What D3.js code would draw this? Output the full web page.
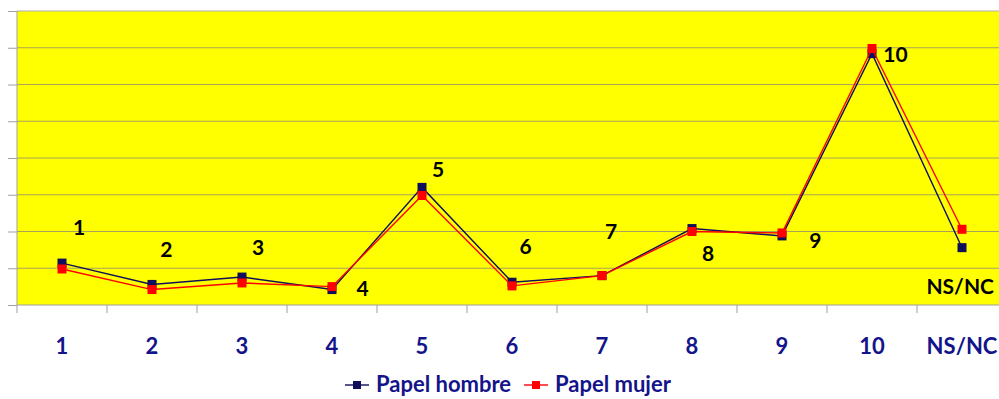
<!DOCTYPE html>
<html><head><meta charset="utf-8">
<script src="https://cdn.jsdelivr.net/npm/d3@7"></script>
<style>html,body{margin:0;padding:0;background:#fff;overflow:hidden}</style>
</head><body>
<svg id="c" width="999" height="399"></svg>
<script>
const categories = ["1","2","3","4","5","6","7","8","9","10","NS/NC"];
const hombre = [5.7, 2.8, 3.8, 2.1, 16.0, 3.1, 4.0, 10.4, 9.4, 34.2, 7.8];
const mujer  = [4.9, 2.1, 3.0, 2.5, 14.9, 2.6, 4.0, 10.0, 9.8, 34.9, 10.3];
const yTicks = [0,5,10,15,20,25,30,35,40];
// data-label annotations: text, value-position, offset within band (fraction)
const annText = ["1","2","3","4","5","6","7","8","9","10","NS/NC"];
const annValue = [10.6, 7.6, 7.85, 2.2, 18.4, 8.0, 10.0, 7.0, 8.75, 34.1, 2.5];
const annShift = [0.19, 0.16, 0.18, 0.34, 0.18, 0.15, 0.10, 0.18, 0.37, 0.26, -0.02];

const svg = d3.select("#c");
const L = 17, R = 1007, T = 11, B = 305;
const FONT = "Lato, 'Open Sans', sans-serif";
const x = d3.scaleBand().domain(categories).range([L, R]);
const y = d3.scaleLinear().domain([0, 40]).range([B, T]);
const cx = c => x(c) + x.bandwidth()/2;

svg.append("rect").attr("x", L).attr("y", T).attr("width", R-L).attr("height", B-T).attr("fill", "#ffff00");

// gridlines
svg.append("g").selectAll("line").data(yTicks.filter(d => d > 0)).join("line")
  .attr("x1", L).attr("x2", R).attr("y1", d => y(d)).attr("y2", d => y(d))
  .attr("stroke", d => d === 40 ? "#b0b0b0" : "#a8a35a").attr("stroke-width", 1.2);

// y axis
const ya = svg.append("g").attr("transform", `translate(${L},0)`)
  .call(d3.axisLeft(y).tickValues(yTicks).tickSize(9).tickFormat(""));
ya.selectAll("line").attr("stroke", "#a0a0a0");
ya.select(".domain").attr("stroke", "#a0a0a0").attr("d", `M0,${T}V${B}`);

// x axis
const xa = svg.append("g").attr("transform", `translate(0,${B})`);
xa.append("line").attr("x1", L).attr("x2", R).attr("stroke", "#a0a0a0").attr("stroke-width", 1.2);
const bounds = categories.map(c => x(c)).concat([R]);
xa.selectAll("line.t").data(bounds).join("line").attr("class","t")
  .attr("x1", d => d).attr("x2", d => d).attr("y1", 0).attr("y2", 8).attr("stroke", "#a0a0a0");
xa.selectAll("text").data(categories).join("text")
  .attr("x", d => cx(d)).attr("y", 49).attr("text-anchor", "middle")
  .attr("font-family", FONT).attr("font-weight", "bold")
  .attr("font-size", 22).attr("fill", "#14148a").text(d => d);

// series
function series(vals, color, lw) {
  const pts = categories.map((c, i) => [cx(c), y(vals[i])]);
  svg.append("path").attr("d", d3.line()(pts)).attr("fill", "none")
    .attr("stroke", color).attr("stroke-width", lw);
  svg.append("g").selectAll("rect").data(pts).join("rect")
    .attr("x", d => d[0]-4.5).attr("y", d => d[1]-4.5).attr("width", 9).attr("height", 9)
    .attr("fill", color);
}
series(hombre, "#0e0e5a", 1.4);
series(mujer, "#ff0000", 1.4);

// data labels
svg.append("g").selectAll("text").data(annText).join("text")
  .attr("x", (d, i) => cx(categories[i]) + annShift[i]*x.bandwidth())
  .attr("y", (d, i) => y(annValue[i]))
  .attr("dy", "0.36em").attr("text-anchor", "middle")
  .attr("font-family", FONT).attr("font-weight", "bold")
  .attr("font-size", 21).attr("fill", "#000").text(d => d);

// legend
const legend = [{name: "Papel hombre", color: "#0e0e5a", x: 345}, {name: "Papel mujer", color: "#ff0000", x: 524}];
const lg = svg.append("g");
legend.forEach(l => {
  lg.append("line").attr("x1", l.x).attr("x2", l.x+24).attr("y1", 385).attr("y2", 385)
    .attr("stroke", l.color).attr("stroke-width", 1.4);
  lg.append("rect").attr("x", l.x+8).attr("y", 381).attr("width", 8).attr("height", 8).attr("fill", l.color);
  lg.append("text").attr("x", l.x+31).attr("y", 392)
    .attr("font-family", FONT).attr("font-weight", "bold")
    .attr("font-size", 22).attr("fill", "#14148a").text(l.name);
});
</script>
</body></html>
